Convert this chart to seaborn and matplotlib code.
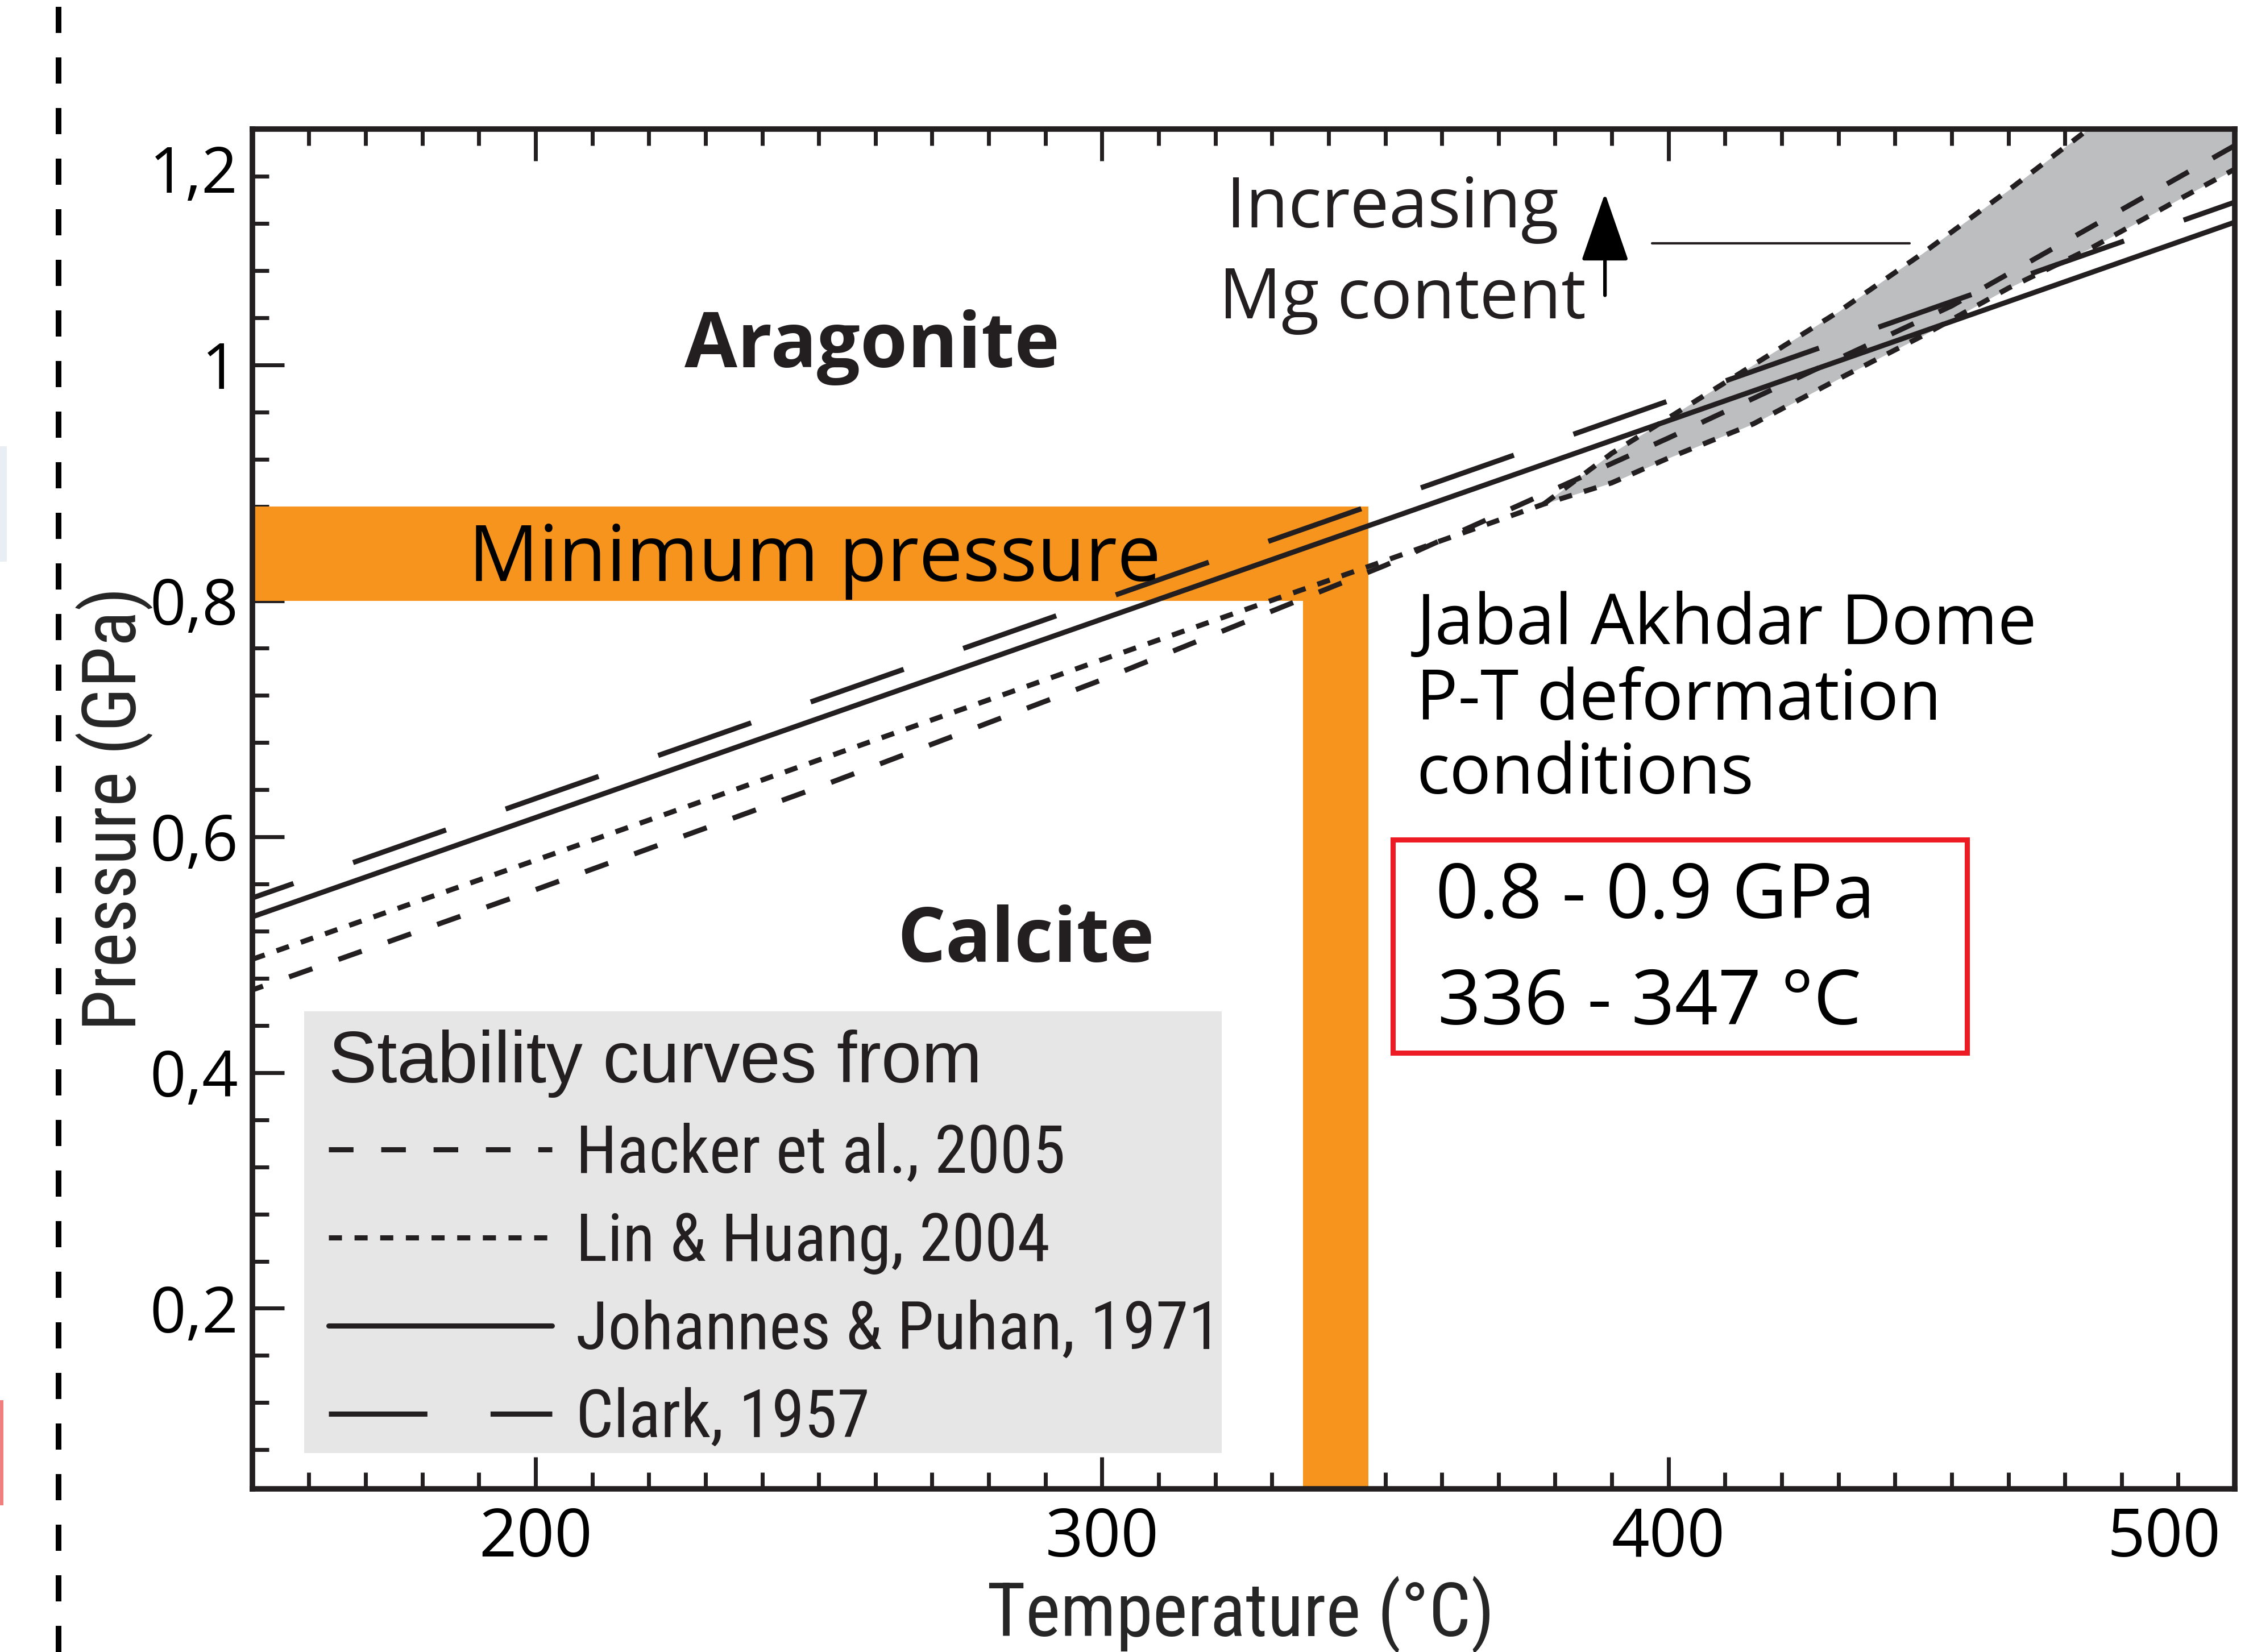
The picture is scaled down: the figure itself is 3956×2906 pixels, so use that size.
import numpy as np
import pandas as pd
import matplotlib
matplotlib.use("Agg")
import matplotlib.pyplot as plt
import matplotlib.transforms as mtransforms
import seaborn as sns
from matplotlib import font_manager
from matplotlib.lines import Line2D
from matplotlib.patches import Rectangle
from matplotlib.ticker import FixedLocator, MultipleLocator

# stability curves (T in degC, P in GPa)
temp_clark = [150, 500]
p_clark = [0.548, 1.138]
temp_jp = [150, 500]
p_jp = [0.532, 1.121]
temp_hacker = [150, 200, 250, 300, 350, 400, 450, 500]
p_hacker = [0.470, 0.555, 0.642, 0.733, 0.830, 0.938, 1.050, 1.186]
temp_lin = [150, 200, 250, 300, 350, 378, 390, 400, 415, 430, 445, 460, 475, 490, 500]
p_lin = [0.496, 0.580, 0.665, 0.750, 0.834, 0.882, 0.900, 0.921, 0.950, 0.988, 1.025, 1.065, 1.100, 1.140, 1.166]
# upper branch of Lin & Huang (increasing Mg content)
temp_mg = [378, 390, 400, 415, 430, 445, 460, 475, 490, 500]
p_mg = [0.882, 0.925, 0.955, 1.000, 1.045, 1.095, 1.148, 1.203, 1.260, 1.300]

# Jabal Akhdar Dome conditions
min_pressure = [0.80, 0.88]
temp_range = [335.5, 347]

legend_labels = ["Hacker et al., 2005", "Lin & Huang, 2004", "Johannes & Puhan, 1971", "Clark, 1957"]
xticks = [200, 300, 400, 500]
yticks = [0.2, 0.4, 0.6, 0.8, 1.0, 1.2]
ytick_labels = ["0,2", "0,4", "0,6", "0,8", "1", "1,2"]

sns.set_style("ticks")
names = {f.name for f in font_manager.fontManager.ttflist}
narrow = next((n for n in ["Liberation Sans Narrow", "Roboto Condensed"] if n in names), "Liberation Sans")
plt.rcParams["font.family"] = ["Open Sans", "DejaVu Sans"]

ink = "#231f20"
orange = "#f7941d"
LW = 6.5

fig = plt.figure(figsize=(39.56, 29.06), dpi=100)
ax = fig.add_axes([0.1122, 0.0988, 0.8815, 0.8231])

#Orange bands
ax.fill_between([150, temp_range[1]], min_pressure[0], min_pressure[1], color=orange, lw=0, zorder=1)
ax.fill_betweenx([0, min_pressure[1]], temp_range[0], temp_range[1], color=orange, lw=0, zorder=1)

#Gray wedge
ax.fill_between(temp_mg, p_lin[5:], p_mg, color="#bcbec0", lw=0, zorder=1)

#Curves
style_hacker = (2.6, (4.8, 5.4))
style_lin = (0, (2.55, 2.45))
style_clark = (10.7, (19.2, 12.3))
sns.lineplot(x=temp_hacker, y=p_hacker, ax=ax, color=ink, lw=LW, linestyle=style_hacker, zorder=3, legend=False)
sns.lineplot(x=temp_lin, y=p_lin, ax=ax, color=ink, lw=LW, linestyle=style_lin, zorder=3, legend=False)
sns.lineplot(x=temp_mg, y=p_mg, ax=ax, color=ink, lw=LW, linestyle=style_lin, zorder=3, legend=False)
sns.lineplot(x=temp_jp, y=p_jp, ax=ax, color=ink, lw=LW, linestyle="-", zorder=3, legend=False)
sns.lineplot(x=temp_clark, y=p_clark, ax=ax, color=ink, lw=LW, linestyle=style_clark, zorder=3, legend=False)

ax.set_xlim(150, 500)
ax.set_ylim(0.047, 1.2)
ax.set_xlabel("")
ax.set_ylabel("")

#Ticks
ax.xaxis.set_major_locator(FixedLocator(xticks))
ax.xaxis.set_minor_locator(MultipleLocator(10))
ax.yaxis.set_major_locator(FixedLocator(yticks))
ax.yaxis.set_minor_locator(MultipleLocator(0.04))
ax.set_xticklabels([str(t) for t in xticks])
ax.set_yticklabels(ytick_labels)
ax.tick_params(which="both", direction="in", top=True, right=False, width=5, color=ink)
ax.tick_params(which="major", length=40, labelsize=84, labelfontfamily="Open Sans", labelcolor="black")
ax.tick_params(axis="x", which="major", pad=22)
ax.tick_params(axis="y", which="major", pad=18, labelsize=80)
ax.tick_params(which="minor", length=21)
for s in ax.spines.values():
    s.set_linewidth(7)
    s.set_color(ink)
    s.set_visible(True)
last_x = ax.get_xticklabels()[-1]
last_x.set_ha("right")
last_x.set_transform(last_x.get_transform() + mtransforms.ScaledTranslation(-18 / 72, 0, fig.dpi_scale_trans))
top_label = ax.get_yticklabels()[-1]
top_label.set_transform(top_label.get_transform() + mtransforms.ScaledTranslation(0, -50 / 72, fig.dpi_scale_trans))

#Axis labels
fig.text(0.5516, 0.0094, "Temperature (°C)", ha="center", va="baseline", family=narrow, size=94)
fig.text(0.0607, 0.5103, "Pressure (GPa)", rotation=90, rotation_mode="anchor",
         ha="center", va="baseline", family=narrow, size=94)

#Annotations
ax.text(259.4, 0.998, "Aragonite", ha="center", va="baseline", size=97, weight="bold", color=ink)
ax.text(286.5, 0.494, "Calcite", ha="center", va="baseline", size=96, weight="bold", color=ink)
ax.text(188.2, 0.817, "Minimum pressure", ha="left", va="baseline", size=99, color="black", zorder=4)
ax.text(351.3, 1.1166, "Increasing", ha="center", va="baseline", size=88, color=ink)
ax.text(353.0, 1.0395, "Mg content", ha="center", va="baseline", size=88, color=ink)
ax.annotate("", xy=(388.8, 1.1455), xytext=(388.8, 1.059),
            arrowprops=dict(arrowstyle="-|>,head_length=0.95,head_width=0.33", mutation_scale=80,
                            lw=4.5, color="black", shrinkA=0, shrinkB=0))
ax.plot([397.1, 442.6], [1.103, 1.103], color=ink, lw=3, zorder=3)

jabal = ["Jabal Akhdar Dome", "P-T deformation", "conditions"]
for line, p in zip(jabal, [0.7633, 0.6993, 0.6365]):
    ax.text(355.5, p, line, ha="left", va="baseline", size=88, color="black")

ax.add_patch(Rectangle((351.3, 0.4169), 452.7 - 351.3, 0.5976 - 0.4169, fill=False,
                       edgecolor="#ed1c24", lw=6.5, zorder=4))
ax.text(358.9, 0.531, "0.8 - 0.9 GPa", ha="left", va="baseline", size=96, color="black")
ax.text(359.3, 0.441, "336 - 347 °C", ha="left", va="baseline", size=96, color="black")

#Legend on a gray panel
ax.add_patch(Rectangle((0.0261, 0.0263), 0.4629, 0.3249, transform=ax.transAxes,
                       facecolor="#e6e6e6", edgecolor="none", zorder=4))
handles = [Line2D([], [], color=ink, lw=LW, linestyle=st)
           for st in [(0, (4.8, 5.4)), style_lin, "-", (0, (19.2, 12.3))]]
leg = ax.legend(handles, legend_labels, title="Stability curves from", loc="lower left",
                bbox_to_anchor=(0.0384, 0.028), borderaxespad=0, frameon=False,
                prop={"family": narrow, "size": 84},
                title_fontproperties={"family": "Liberation Sans", "size": 92},
                alignment="left", handlelength=3.37, handletextpad=0.36, borderpad=0,
                labelspacing=0.37)
leg.set_zorder(5)
for t in leg.get_texts():
    t.set_color(ink)
leg.get_title().set_color(ink)

#Left panel divider and edge remnants
fig.add_artist(Line2D([0.026, 0.026], [0, 1], transform=fig.transFigure, color="black",
                      lw=7.2, linestyle=(0, (4.6, 4.3))))
fig.add_artist(Rectangle((0, 0.66), 0.003, 0.07, transform=fig.transFigure, color="#e8eef4", lw=0))
fig.add_artist(Rectangle((0, 0.0888), 0.0016, 0.0637, transform=fig.transFigure, color="#f08080", lw=0))

fig.savefig("out.png", dpi=100)
